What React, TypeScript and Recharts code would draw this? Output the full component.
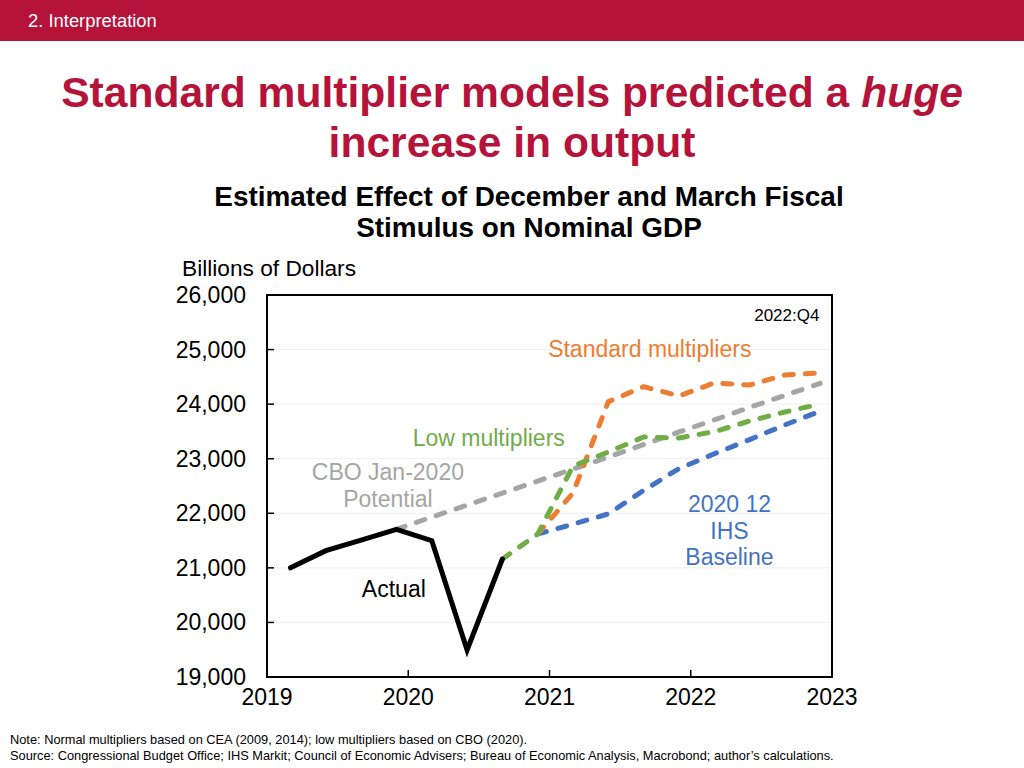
import { LineChart, Line, XAxis, YAxis, CartesianGrid, ReferenceArea, ReferenceDot } from 'recharts';

const FONT = '"Liberation Sans", Arial, Helvetica, sans-serif';
const CRIMSON = '#B5133A';

// quarterly observations, 2019Q1 .. 2022Q4
const quarters = [
  '2019Q1', '2019Q2', '2019Q3', '2019Q4',
  '2020Q1', '2020Q2', '2020Q3', '2020Q4',
  '2021Q1', '2021Q2', '2021Q3', '2021Q4',
  '2022Q1', '2022Q2', '2022Q3', '2022Q4',
];

// billions of dollars, nominal GDP
const actual = [21000, 21315, 21510, 21707, 21498, 19495, 21162, null, null, null, null, null, null, null, null, null];
const cboPotential = [null, null, null, 21707, 21930, 22150, 22370, 22590, 22810, 23030, 23260, 23490, 23710, 23940, 24160, 24380];
const ihsBaseline = [null, null, null, null, null, null, null, 21620, 21800, 21990, 22420, 22820, 23090, 23350, 23620, 23870];
const standardMult = [null, null, null, null, null, null, null, 21620, 22372, 24045, 24320, 24150, 24388, 24351, 24534, 24570];
const lowMult = [null, null, null, null, null, null, 21162, 21620, 22867, 23123, 23398, 23380, 23495, 23691, 23856, 24003];

const yearTicks = [2019, 2020, 2021, 2022, 2023];
const valueTicks = [19000, 20000, 21000, 22000, 23000, 24000, 25000, 26000];

// quarter label -> decimal year used on the x axis
const toYear = (q: string) => Number(q.slice(0, 4)) + (Number(q.slice(5)) - 1) / 4 + 1 / 6;

const data = quarters.map((q, i) => ({
  t: toYear(q),
  actual: actual[i],
  cbo: cboPotential[i],
  ihs: ihsBaseline[i],
  standard: standardMult[i],
  low: lowMult[i],
}));

const annotations = [
  { t: 2022.68, v: 25634, lines: ['2022:Q4'], color: '#000000', size: 17 },
  { t: 2021.71, v: 25011, lines: ['Standard multipliers'], color: '#ED7D31', size: 23 },
  { t: 2020.57, v: 23380, lines: ['Low multipliers'], color: '#70AD47', size: 23 },
  { t: 2019.856, v: 22757, lines: ['CBO Jan-2020', 'Potential'], color: '#A5A5A5', size: 23 },
  { t: 2022.274, v: 22170, lines: ['2020 12', 'IHS', 'Baseline'], color: '#4472C4', size: 23 },
  { t: 2019.898, v: 20613, lines: ['Actual'], color: '#000000', size: 23 },
];

function YTick(props: any) {
  const { x, y, payload } = props;
  const inner = payload.value > 19000 && payload.value < 26000;
  return (
    <g>
      {inner && <line x1={x} x2={x + 7} y1={y} y2={y} stroke="#000" strokeWidth={1.5} />}
      <text x={x - 21} y={y} dy="0.35em" textAnchor="end" fontSize={23} fill="#000" fontFamily={FONT}>
        {payload.value.toLocaleString('en-US')}
      </text>
    </g>
  );
}

function XTick(props: any) {
  const { x, y, payload } = props;
  const inner = payload.value > 2019 && payload.value < 2023;
  return (
    <g>
      {inner && <line x1={x} x2={x} y1={y} y2={y - 7} stroke="#000" strokeWidth={1.5} />}
      <text x={x} y={y + 20} dy="0.35em" textAnchor="middle" fontSize={23} fill="#000" fontFamily={FONT}>
        {payload.value}
      </text>
    </g>
  );
}

function Ann({ viewBox, lines, color, size }: any) {
  const cx = viewBox.x + viewBox.width / 2;
  const cy = viewBox.y + viewBox.height / 2;
  const lh = size * 1.16;
  return (
    <text textAnchor="middle" fill={color} fontSize={size} fontFamily={FONT}>
      {lines.map((l: string, i: number) => (
        <tspan key={i} x={cx} y={cy + i * lh} dy="0.35em">
          {l}
        </tspan>
      ))}
    </text>
  );
}

const dash = '9 12';

export default function App() {
  return (
    <div
      style={{
        position: 'absolute',
        left: 0,
        top: 0,
        width: 1024,
        height: 768,
        background: '#fff',
        fontFamily: FONT,
        overflow: 'hidden',
      }}
    >
      <div style={{ height: 41, background: CRIMSON, color: '#fff', fontSize: 18.4, lineHeight: '41px', paddingLeft: 28 }}>
        2. Interpretation
      </div>
      <div
        style={{
          position: 'absolute',
          top: 67,
          left: 0,
          width: 1024,
          textAlign: 'center',
          color: CRIMSON,
          fontWeight: 'bold',
          fontSize: 42.6,
          lineHeight: '50px',
        }}
      >
        Standard multiplier models predicted a <i>huge</i>
        <br />
        increase in output
      </div>
      <div
        style={{
          position: 'absolute',
          top: 181,
          left: 179,
          width: 700,
          textAlign: 'center',
          color: '#000',
          fontWeight: 'bold',
          fontSize: 27.9,
          lineHeight: '31px',
        }}
      >
        Estimated Effect of December and March Fiscal
        <br />
        Stimulus on Nominal GDP
      </div>
      <div style={{ position: 'absolute', top: 254, left: 182, fontSize: 22.7, lineHeight: '28px', color: '#000' }}>
        Billions of Dollars
      </div>

      <div style={{ position: 'absolute', left: 0, top: 0 }}>
        <LineChart width={1024} height={768} data={data} margin={{ top: 295, right: 192, bottom: 90, left: 266 }}>
          <CartesianGrid vertical={false} stroke="#eeeeee" strokeWidth={1} />
          <XAxis
            type="number"
            dataKey="t"
            domain={[2019, 2023]}
            ticks={yearTicks}
            allowDataOverflow
            height={1}
            axisLine={false}
            tickLine={false}
            tickSize={0}
            tickMargin={0}
            tick={<XTick />}
            interval={0}
          />
          <YAxis
            type="number"
            domain={[19000, 26000]}
            ticks={valueTicks}
            allowDataOverflow
            width={1}
            axisLine={false}
            tickLine={false}
            tickSize={0}
            tickMargin={0}
            tick={<YTick />}
            interval={0}
          />
          <ReferenceArea x1={2019} x2={2023} y1={19000} y2={26000} fill="none" stroke="#000" strokeWidth={2} />
          <Line dataKey="cbo" stroke="#A5A5A5" strokeWidth={5} strokeDasharray={dash} strokeLinecap="round" dot={false} isAnimationActive={false} />
          <Line dataKey="ihs" stroke="#4472C4" strokeWidth={5} strokeDasharray={dash} strokeLinecap="round" dot={false} isAnimationActive={false} />
          <Line dataKey="standard" stroke="#ED7D31" strokeWidth={5} strokeDasharray={dash} strokeLinecap="round" dot={false} isAnimationActive={false} />
          <Line dataKey="low" stroke="#70AD47" strokeWidth={5} strokeDasharray={dash} strokeLinecap="round" dot={false} isAnimationActive={false} />
          <Line dataKey="actual" stroke="#000" strokeWidth={5} strokeLinecap="round" dot={false} isAnimationActive={false} />
          {annotations.map((a) => (
            <ReferenceDot
              key={a.lines[0]}
              x={a.t}
              y={a.v}
              r={1}
              fill="none"
              stroke="none"
              label={<Ann lines={a.lines} color={a.color} size={a.size} />}
            />
          ))}
        </LineChart>
      </div>

      <div style={{ position: 'absolute', left: 10, top: 732, fontSize: 12.8, lineHeight: '16px', color: '#000' }}>
        Note: Normal multipliers based on CEA (2009, 2014); low multipliers based on CBO (2020).
        <br />
        Source: Congressional Budget Office; IHS Markit; Council of Economic Advisers; Bureau of Economic Analysis, Macrobond; author’s calculations.
      </div>
    </div>
  );
}
